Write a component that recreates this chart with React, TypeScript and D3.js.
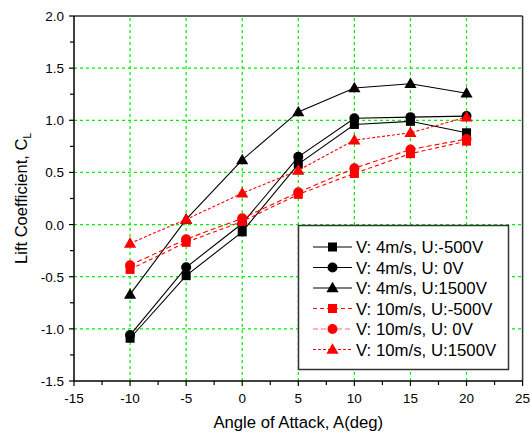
import React from "react";
import * as d3 from "d3";

const angles = [-10, -5, 0, 5, 10, 15, 20];
const v4m500 = [-1.09, -0.49, -0.07, 0.58, 0.96, 0.99, 0.88];
const v4u0 = [-1.06, -0.41, 0.01, 0.65, 1.02, 1.03, 1.04];
const v4u1500 = [-0.67, 0.05, 0.62, 1.08, 1.31, 1.35, 1.26];
const v10m500 = [-0.43, -0.17, 0.03, 0.29, 0.49, 0.68, 0.8];
const v10u0 = [-0.39, -0.14, 0.06, 0.31, 0.54, 0.72, 0.82];
const v10u1500 = [-0.18, 0.05, 0.3, 0.52, 0.81, 0.88, 1.03];
const xTicks = [-15, -10, -5, 0, 5, 10, 15, 20, 25];
const yTicks = [-1.5, -1.0, -0.5, 0.0, 0.5, 1.0, 1.5, 2.0];
const seriesNames = [
  "V: 4m/s, U:-500V",
  "V: 4m/s, U: 0V",
  "V: 4m/s, U:1500V",
  "V: 10m/s, U:-500V",
  "V: 10m/s, U: 0V",
  "V: 10m/s, U:1500V",
];

const FONT = "Liberation Sans, Arial, sans-serif";

export default function App() {
  const W = 531, H = 436;
  const x = d3.scaleLinear().domain([-15, 25]).range([74, 522.6]);
  const y = d3.scaleLinear().domain([-1.5, 2]).range([381, 16]);
  const series = [
    { name: seriesNames[0], vals: v4m500, color: "#000", dash: "", shape: "square" },
    { name: seriesNames[1], vals: v4u0, color: "#000", dash: "", shape: "circle" },
    { name: seriesNames[2], vals: v4u1500, color: "#000", dash: "", shape: "triangle" },
    { name: seriesNames[3], vals: v10m500, color: "#ff0000", dash: "4,3", shape: "square" },
    { name: seriesNames[4], vals: v10u0, color: "#ff0000", dash: "5,3", shape: "circle" },
    { name: seriesNames[5], vals: v10u1500, color: "#ff0000", dash: "3,2", shape: "triangle" },
  ];
  const line = d3.line<number>().x((_, i) => x(angles[i])).y((v) => y(v));
  const marker = (shape: string, cx: number, cy: number, color: string, key: string) => {
    if (shape === "square") return <rect key={key} x={cx - 4.5} y={cy - 4.5} width={9} height={9} fill={color} />;
    if (shape === "circle") return <circle key={key} cx={cx} cy={cy} r={5} fill={color} />;
    const s = d3.symbol().type(d3.symbolTriangle).size(64)();
    return <path key={key} d={s || ""} transform={`translate(${cx},${cy + 0.8})`} fill={color} />;
  };
  const xMinor = d3.range(-15, 25.01, 2.5);
  const yMinor = d3.range(-1.5, 2.01, 0.25);
  const x0 = x(-15), x1 = x(25), y0 = y(-1.5), y1 = y(2);
  const legY = (i: number) => 247 + i * 20.5;
  return (
    <svg width={W} height={H} style={{ position: "absolute", left: 0, top: 0, background: "#fff" }}>
      <rect width={W} height={H} fill="#fff" />
      {xTicks.slice(1, -1).map((t) => (
        <line key={"gx" + t} x1={x(t)} x2={x(t)} y1={y0} y2={y1} stroke="#00ee00" strokeWidth={1.2} strokeDasharray="3,3" />
      ))}
      {yTicks.slice(1, -1).map((t) => (
        <line key={"gy" + t} x1={x0} x2={x1} y1={y(t)} y2={y(t)} stroke="#00ee00" strokeWidth={1.2} strokeDasharray="3,3" />
      ))}
      <line x1={x0} x2={x1} y1={y1} y2={y1} stroke="#333" strokeWidth={1.5} />
      <line x1={x1} x2={x1} y1={y1} y2={y0} stroke="#333" strokeWidth={1.5} />
      <line x1={x0} x2={x1} y1={y0} y2={y0} stroke="#000" strokeWidth={1.5} />
      <line x1={x0} x2={x0} y1={y0} y2={y1} stroke="#000" strokeWidth={1.5} />
      {xMinor.map((t, i) => (
        <line key={"xt" + i} x1={x(t)} x2={x(t)} y1={y0} y2={y0 + (i % 2 === 0 ? 5 : 4)} stroke="#000" strokeWidth={1.2} />
      ))}
      {yMinor.map((t, i) => (
        <line key={"yt" + i} x1={x0} x2={x0 - (i % 2 === 0 ? 5 : 4)} y1={y(t)} y2={y(t)} stroke="#000" strokeWidth={1.2} />
      ))}
      {xTicks.map((t) => (
        <text key={"xl" + t} x={x(t)} y={403} textAnchor="middle" fontFamily={FONT} fontSize={13.5} fill="#000">{t}</text>
      ))}
      {yTicks.map((t) => (
        <text key={"yl" + t} x={64} y={y(t) + 5} textAnchor="end" fontFamily={FONT} fontSize={13.5} fill="#000">{t.toFixed(1)}</text>
      ))}
      <text x={(x0 + x1) / 2} y={428} textAnchor="middle" fontFamily={FONT} fontSize={16.7} fill="#000">Angle of Attack, A(deg)</text>
      <text transform={`translate(27,${(y0 + y1) / 2}) rotate(-90)`} textAnchor="middle" fontFamily={FONT} fontSize={16.5} fill="#000">
        Lift Coefficient, C<tspan fontSize={10} dy={4}>L</tspan>
      </text>
      {series.map((s, si) => (
        <g key={"s" + si}>
          <path d={line(s.vals) || ""} fill="none" stroke={s.color} strokeWidth={1.1} strokeDasharray={s.dash} />
          {s.vals.map((v, i) => marker(s.shape, x(angles[i]), y(v), s.color, `m${si}-${i}`))}
        </g>
      ))}
      <rect x={298.5} y={225.5} width={210} height={144} fill="#fff" stroke="#333" strokeWidth={1.5} />
      {series.map((s, i) => (
        <g key={"lg" + i}>
          <line x1={313} x2={352} y1={legY(i)} y2={legY(i)} stroke={s.color} strokeWidth={1.1} strokeDasharray={s.dash} opacity={i === 4 ? 0.6 : 1} />
          {marker(s.shape, 332.5, legY(i), s.color, "lm" + i)}
          <text x={356} y={legY(i) + 6} fontFamily={FONT} fontSize={16.8} fill="#000">{s.name}</text>
        </g>
      ))}
    </svg>
  );
}
